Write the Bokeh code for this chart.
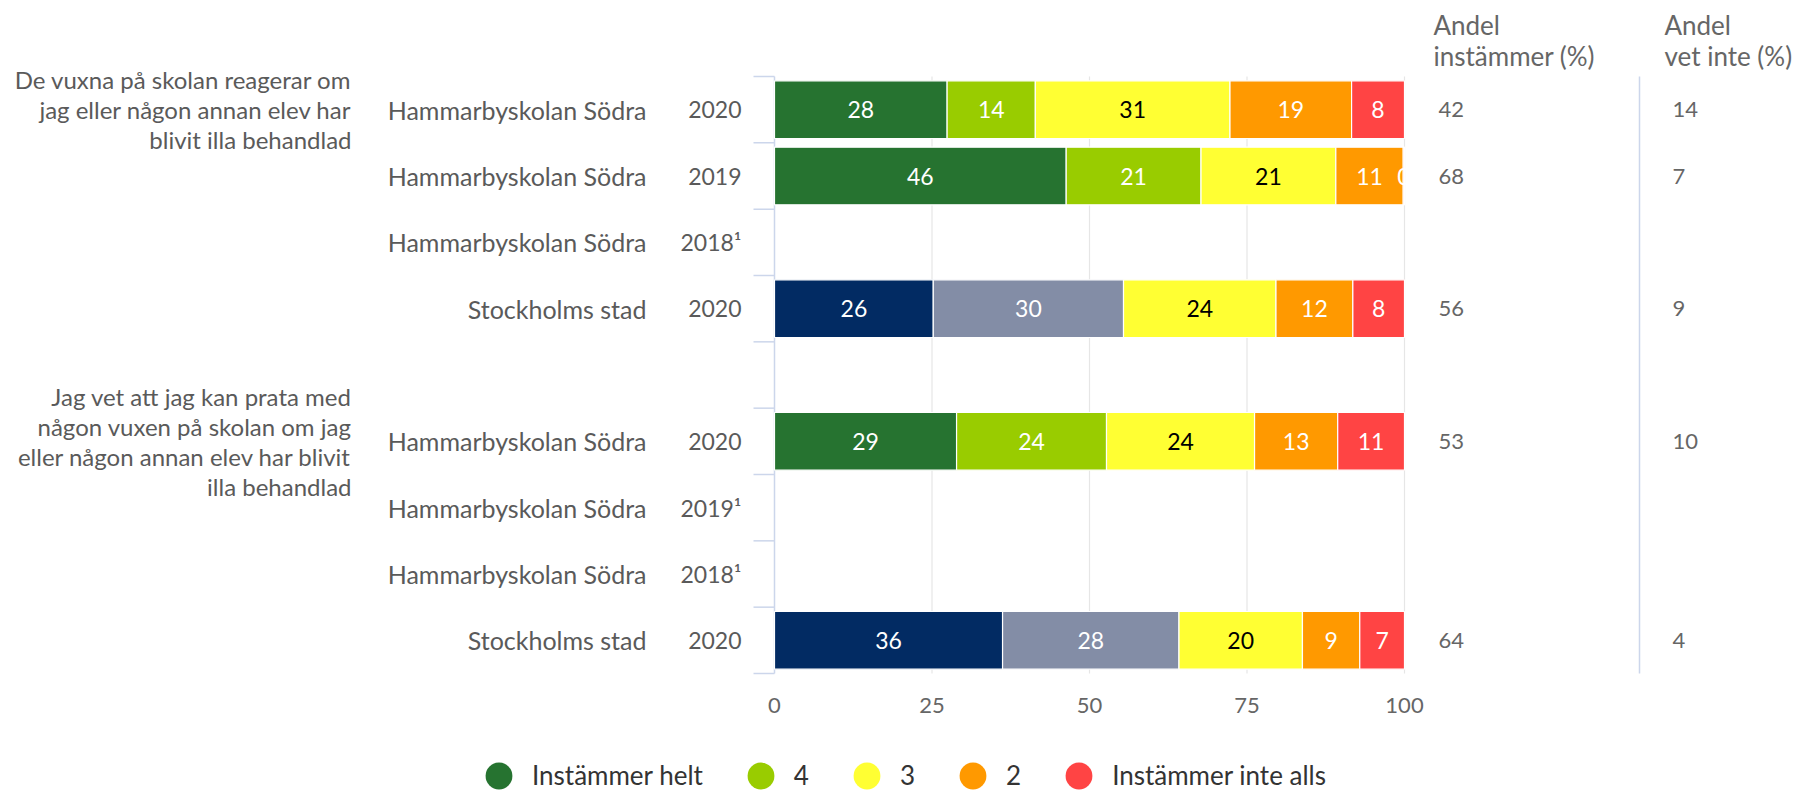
from bokeh.plotting import figure
from bokeh.models import ColumnDataSource, Range1d, Legend, LegendItem
from bokeh.core.properties import value
from bokeh.embed import file_html
from bokeh.resources import INLINE

# ---------------- data ----------------
questions = [
    ["De vuxna på skolan reagerar om", "jag eller någon annan elev har", "blivit illa behandlad"],
    ["Jag vet att jag kan prata med", "någon vuxen på skolan om jag",
     "eller någon annan elev har blivit", "illa behandlad"],
]
units = ["Hammarbyskolan Södra", "Hammarbyskolan Södra", "Hammarbyskolan Södra", "Stockholms stad",
         "Hammarbyskolan Södra", "Hammarbyskolan Södra", "Hammarbyskolan Södra", "Stockholms stad"]
years = ["2020", "2019", "2018¹", "2020", "2020", "2019¹", "2018¹", "2020"]
question_of_row = [0, 0, 0, 0, 1, 1, 1, 1]
categories = ["Instämmer helt", "4", "3", "2", "Instämmer inte alls"]

# segment lengths (percent), None = no result
seg_helt = [27.4, 46.3, None, 25.2, 28.9, None, None, 36.2]
seg_4 = [14.0, 21.4, None, 30.2, 23.8, None, None, 28.0]
seg_3 = [30.9, 21.4, None, 24.2, 23.5, None, None, 19.6]
seg_2 = [19.3, 10.7, None, 12.2, 13.2, None, None, 9.1]
seg_inte = [8.4, 0.2, None, 8.2, 10.6, None, None, 7.1]
# printed numbers inside the bars
lab_helt = [28, 46, None, 26, 29, None, None, 36]
lab_4 = [14, 21, None, 30, 24, None, None, 28]
lab_3 = [31, 21, None, 24, 24, None, None, 20]
lab_2 = [19, 11, None, 12, 13, None, None, 9]
lab_inte = [8, 0, None, 8, 11, None, None, 7]
andel_instammer = [42, 68, None, 56, 53, None, None, 64]
andel_vet_inte = [14, 7, None, 9, 10, None, None, 4]

header_instammer = ["Andel", "instämmer (%)"]
header_vet_inte = ["Andel", "vet inte (%)"]
x_ticks = [0, 25, 50, 75, 100]

# ---------------- layout constants (pixels) ----------------
W, H = 1793, 792
FL, FR, FT, FB = 774, 1404, 76, 673      # bar area
N_SLOTS = 9
XPX = (FR - FL) / 100.0
YPX = (FB - FT) / N_SLOTS
TICK_OUT = 21
FONT = "Lato"
school_colors = ["#267330", "#99cc00", "#ffff33", "#ff9900", "#ff4444"]
city_colors = ["#022b63", "#838da6", "#ffff33", "#ff9900", "#ff4444"]
text_on = ["white", "white", "black", "white", "white"]
LABEL_GRAY = "#5a5a5a"
AXIS_GRAY = "#666666"
AXIS_BLUE = "#ccd6eb"


def xd(px):
    return (px - FL) / XPX


def yd(py):
    return (py - FT) / YPX


row_pos = [i + q for i, q in enumerate(question_of_row)]
row_center = [p + 0.5 for p in row_pos]

p = figure(width=W, height=H,
           x_range=Range1d(xd(0), xd(W)), y_range=Range1d(yd(H), yd(0)),
           output_backend="svg", toolbar_location=None, title=None,
           x_axis_location=None, y_axis_location=None,
           min_border=0, min_border_left=0, min_border_right=0,
           min_border_top=0, min_border_bottom=0)
p.outline_line_color = None
p.grid.visible = False

# grid lines, axis line and category ticks
p.segment(x0=x_ticks[1:], y0=[0] * 4, x1=x_ticks[1:], y1=[N_SLOTS] * 4,
          line_color="#e6e6e6", line_width=1.2)
p.segment(x0=[0], y0=[0], x1=[0], y1=[N_SLOTS], line_color=AXIS_BLUE, line_width=1.5)
slot_edges = list(range(N_SLOTS + 1))
p.segment(x0=[-TICK_OUT / XPX] * len(slot_edges), y0=slot_edges,
          x1=[0] * len(slot_edges), y1=slot_edges, line_color=AXIS_BLUE, line_width=1.5)
p.text(x=x_ticks, y=[yd(705)] * len(x_ticks), text=[str(t) for t in x_ticks],
       text_align="center", text_baseline="middle", text_font=value(FONT),
       text_font_size="22px", text_color=AXIS_GRAY)

# stacked bars
segs = [seg_helt, seg_4, seg_3, seg_2, seg_inte]
labs = [lab_helt, lab_4, lab_3, lab_2, lab_inte]
cum = [0.0] * len(units)
legend_items = []
for k, cat in enumerate(categories):
    d = dict(y=[], left=[], right=[], mid=[], color=[], label=[], tcolor=[])
    for r in range(len(units)):
        v = segs[k][r]
        if v is None:
            continue
        left = cum[r]
        right = left + v
        cum[r] = right
        pal = city_colors if units[r] == "Stockholms stad" else school_colors
        d["y"].append(row_center[r])
        d["left"].append(left)
        d["right"].append(right)
        d["mid"].append((left + right) / 2)
        d["color"].append(pal[k])
        d["label"].append(str(labs[k][r]))
        d["tcolor"].append(text_on[k])
    src = ColumnDataSource(d)
    p.hbar(y="y", left="left", right="right", height=0.87, fill_color="color",
           line_color="white", line_width=1.2, source=src)
    p.text(x="mid", y="y", text="label", text_color="tcolor", text_align="center",
           text_baseline="middle", text_font=value(FONT), text_font_size="23px",
           source=src)
    # zero-size markers carry the circular legend symbol
    marker = p.scatter(x="mid", y="y", size=0, marker="circle",
                       fill_color=school_colors[k], line_color=None, source=src)
    legend_items.append(LegendItem(label=cat, renderers=[marker]))

# row labels
p.text(x=[xd(646)] * len(units), y=row_center, text=units, text_align="right",
       text_baseline="middle", text_font=value(FONT), text_font_size="25px",
       text_color=LABEL_GRAY)
p.text(x=[xd(741)] * len(units), y=row_center, text=years, text_align="right",
       text_baseline="middle", text_font=value(FONT), text_font_size="23px",
       text_color=LABEL_GRAY)

# question texts
qx, qy, qt = [], [], []
for qi, lines in enumerate(questions):
    c = row_center[question_of_row.index(qi)]
    n = len(lines)
    for li, t in enumerate(lines):
        qx.append(xd(351))
        qy.append(c + (li - (n - 1) / 2) * 29.8 / YPX)
        qt.append(t)
p.text(x=qx, y=qy, text=qt, text_align="right", text_baseline="middle",
       text_font=value(FONT), text_font_size="24px", text_color=LABEL_GRAY)

# side columns
for col, px in ((andel_instammer, 1438), (andel_vet_inte, 1672)):
    ys = [row_center[r] for r in range(len(col)) if col[r] is not None]
    ts = [str(v) for v in col if v is not None]
    p.text(x=[xd(px)] * len(ts), y=ys, text=ts, text_align="left", text_baseline="middle",
           text_font=value(FONT), text_font_size="22px", text_color=AXIS_GRAY)
for hdr, px in ((header_instammer, 1433), (header_vet_inte, 1664)):
    p.text(x=[xd(px)] * len(hdr), y=[yd(24), yd(55)], text=hdr,
           text_align="left", text_baseline="middle", text_font=value(FONT),
           text_font_size="26px", text_color=AXIS_GRAY)
p.segment(x0=[xd(1639)], y0=[0], x1=[xd(1639)], y1=[N_SLOTS], line_color=AXIS_BLUE,
          line_width=1.5)

# legend
GLY = 67
LEG_CY = 775
legend = Legend(items=legend_items, orientation="horizontal", glyph_width=GLY,
                glyph_height=GLY, label_standoff=-3, spacing=24, padding=0, margin=0,
                label_width=0, border_line_color=None, background_fill_alpha=0,
                label_text_font=FONT, label_text_font_size="26px",
                label_text_color="#333333",
                location=(498.5 - GLY / 2, H - (LEG_CY + GLY / 2)))
p.add_layout(legend)

open("out.html", "w").write(file_html(p, INLINE))
